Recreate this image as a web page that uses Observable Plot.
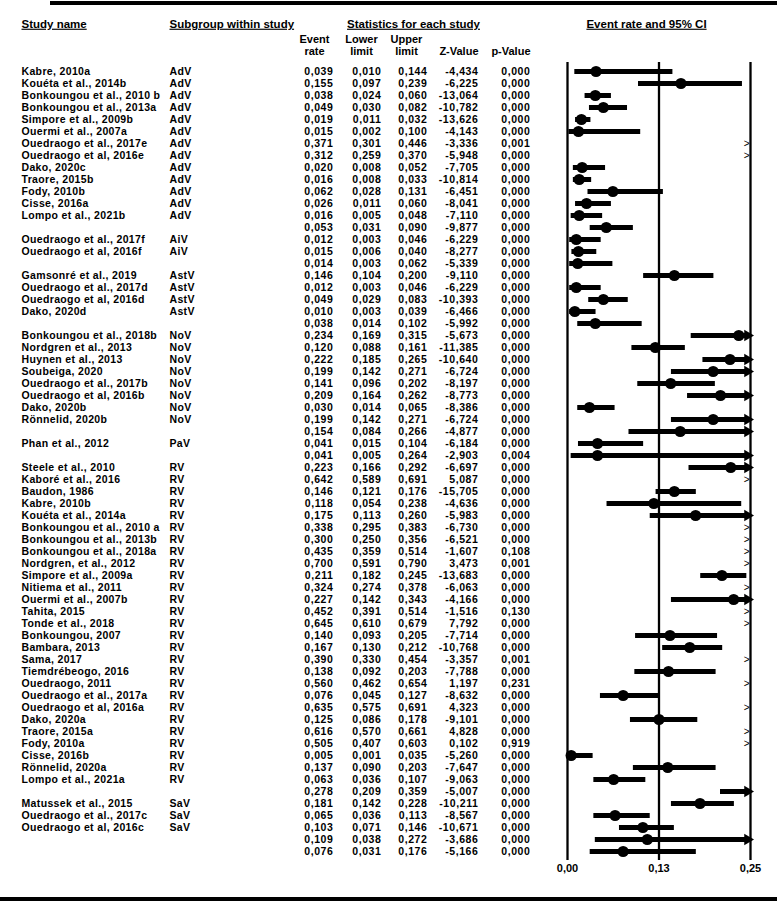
<!DOCTYPE html>
<html><head><meta charset="utf-8">
<script src="https://cdn.jsdelivr.net/npm/d3@7"></script>
<script src="https://cdn.jsdelivr.net/npm/@observablehq/plot@0.6"></script>
<style>
body{margin:0;background:#fff;}
#wrap{position:relative;width:777px;height:903px;overflow:hidden;background:#fff;}
.hline{position:absolute;background:#000;}
</style></head><body><div id="wrap"></div>
<script>
const studies = ["Kabre, 2010a","Kouéta et al., 2014b","Bonkoungou et al., 2010 b","Bonkoungou et al., 2013a","Simpore et al., 2009b","Ouermi et al., 2007a","Ouedraogo et al., 2017e","Ouedraogo et al, 2016e","Dako, 2020c","Traore, 2015b","Fody, 2010b","Cisse, 2016a","Lompo et al., 2021b","",
"Ouedraogo et al., 2017f","Ouedraogo et al, 2016f","",
"Gamsonré et al., 2019","Ouedraogo et al., 2017d","Ouedraogo et al, 2016d","Dako, 2020d","",
"Bonkoungou et al., 2018b","Nordgren et al., 2013","Huynen et al., 2013","Soubeiga, 2020","Ouedraogo et al., 2017b","Ouedraogo et al, 2016b","Dako, 2020b","Rönnelid, 2020b","",
"Phan et al., 2012","",
"Steele et al., 2010","Kaboré et al., 2016","Baudon, 1986","Kabre, 2010b","Kouéta et al., 2014a","Bonkoungou et al., 2010 a","Bonkoungou et al., 2013b","Bonkoungou et al., 2018a","Nordgren, et al., 2012","Simpore et al., 2009a","Nitiema et al., 2011","Ouermi et al., 2007b","Tahita, 2015","Tonde et al., 2018","Bonkoungou, 2007","Bambara, 2013","Sama, 2017","Tiemdrébeogo, 2016","Ouedraogo, 2011","Ouedraogo et al., 2017a","Ouedraogo et al, 2016a","Dako, 2020a","Traore, 2015a","Fody, 2010a","Cisse, 2016b","Rönnelid, 2020a","Lompo et al., 2021a","",
"Matussek et al., 2015","Ouedraogo et al., 2017c","Ouedraogo et al, 2016c","",
""];
const subgroups = ["AdV","AdV","AdV","AdV","AdV","AdV","AdV","AdV","AdV","AdV","AdV","AdV","AdV","",
"AiV","AiV","",
"AstV","AstV","AstV","AstV","",
"NoV","NoV","NoV","NoV","NoV","NoV","NoV","NoV","",
"PaV","",
"RV","RV","RV","RV","RV","RV","RV","RV","RV","RV","RV","RV","RV","RV","RV","RV","RV","RV","RV","RV","RV","RV","RV","RV","RV","RV","RV","",
"SaV","SaV","SaV","",
""];
const eventRate = [0.039,0.155,0.038,0.049,0.019,0.015,0.371,0.312,0.020,0.016,0.062,0.026,0.016,0.053,
0.012,0.015,0.014,
0.146,0.012,0.049,0.010,0.038,
0.234,0.120,0.222,0.199,0.141,0.209,0.030,0.199,0.154,
0.041,0.041,
0.223,0.642,0.146,0.118,0.175,0.338,0.300,0.435,0.700,0.211,0.324,0.227,0.452,0.645,0.140,0.167,0.390,0.138,0.560,0.076,0.635,0.125,0.616,0.505,0.005,0.137,0.063,0.278,
0.181,0.065,0.103,0.109,
0.076];
const lowerLimit = [0.010,0.097,0.024,0.030,0.011,0.002,0.301,0.259,0.008,0.008,0.028,0.011,0.005,0.031,
0.003,0.006,0.003,
0.104,0.003,0.029,0.003,0.014,
0.169,0.088,0.185,0.142,0.096,0.164,0.014,0.142,0.084,
0.015,0.005,
0.166,0.589,0.121,0.054,0.113,0.295,0.250,0.359,0.591,0.182,0.274,0.142,0.391,0.610,0.093,0.130,0.330,0.092,0.462,0.045,0.575,0.086,0.570,0.407,0.001,0.090,0.036,0.209,
0.142,0.036,0.071,0.038,
0.031];
const upperLimit = [0.144,0.239,0.060,0.082,0.032,0.100,0.446,0.370,0.052,0.033,0.131,0.060,0.048,0.090,
0.046,0.040,0.062,
0.200,0.046,0.083,0.039,0.102,
0.315,0.161,0.265,0.271,0.202,0.262,0.065,0.271,0.266,
0.104,0.264,
0.292,0.691,0.176,0.238,0.260,0.383,0.356,0.514,0.790,0.245,0.378,0.343,0.514,0.679,0.205,0.212,0.454,0.203,0.654,0.127,0.691,0.178,0.661,0.603,0.035,0.203,0.107,0.359,
0.228,0.113,0.146,0.272,
0.176];
const zValue = [-4.434,-6.225,-13.064,-10.782,-13.626,-4.143,-3.336,-5.948,-7.705,-10.814,-6.451,-8.041,-7.110,-9.877,
-6.229,-8.277,-5.339,
-9.110,-6.229,-10.393,-6.466,-5.992,
-5.673,-11.385,-10.640,-6.724,-8.197,-8.773,-8.386,-6.724,-4.877,
-6.184,-2.903,
-6.697,5.087,-15.705,-4.636,-5.983,-6.730,-6.521,-1.607,3.473,-13.683,-6.063,-4.166,-1.516,7.792,-7.714,-10.768,-3.357,-7.788,1.197,-8.632,4.323,-9.101,4.828,0.102,-5.260,-7.647,-9.063,-5.007,
-10.211,-8.567,-10.671,-3.686,
-5.166];
const pValue = [0,0,0,0,0,0,0.001,0,0,0,0,0,0,0,
0,0,0,
0,0,0,0,0,
0,0,0,0,0,0,0,0,0,
0,0.004,
0,0,0,0,0,0,0,0.108,0.001,0,0,0,0.130,0,0,0,0.001,0,0.231,0,0,0,0,0.919,0,0,0,0,
0,0,0,0,
0];
const tickValues = [0, 0.125, 0.25];
const tickLabels = ["0,00", "0,13", "0,25"];
const titleLabels = ["Study name", "Subgroup within study", "Statistics for each study", "Event rate and 95% CI"];
const statLabels = [["Event", "rate"], ["Lower", "limit"], ["Upper", "limit"], ["", "Z-Value"], ["", "p-Value"]];

// ---- layout (not data) ----
const FONT = "'Liberation Sans', Arial, Helvetica, sans-serif";
const M_TOP = 62, M_BOTTOM = 43;
const xMax = tickValues[tickValues.length - 1];
const fmt = v => v.toFixed(3).replace(".", ",");
const rows = studies.map((s, i) => ({i, study: s, subgroup: subgroups[i], er: eventRate[i], lo: lowerLimit[i], hi: upperLimit[i], z: zValue[i], p: pValue[i]}));

const columns = [
  {dx: 21, anchor: "start", cls: "name", text: d => d.study},
  {dx: 169, anchor: "start", cls: "name", text: d => d.subgroup},
  {dx: 333, anchor: "end", cls: "num", text: d => fmt(d.er)},
  {dx: 381, anchor: "end", cls: "num", text: d => fmt(d.lo)},
  {dx: 427, anchor: "end", cls: "num", text: d => fmt(d.hi)},
  {dx: 478, anchor: "end", cls: "num", text: d => fmt(d.z)},
  {dx: 530, anchor: "end", cls: "num", text: d => fmt(d.p)}
];
const titleLayout = [
  {dx: 21, anchor: "start"},
  {dx: 169, anchor: "start"},
  {dx: 413, anchor: "middle"},
  {dx: 646, anchor: "middle"}
];
const statLayout = [
  {dx: 314, anchor: "middle"},
  {dx: 361, anchor: "middle"},
  {dx: 406, anchor: "middle"},
  {dx: 478, anchor: "end"},
  {dx: 530, anchor: "end"}
];
const TITLE_Y = 23.5, STAT_Y1 = 38.5, STAT_Y2 = 51;
const ROW_FONT = 10.5;

const marks = [];
marks.push(Plot.ruleX(tickValues, {stroke: "black", strokeWidth: 2.3}));
marks.push(Plot.ruleY(rows.filter(d => d.lo < xMax), {y: "i", x1: "lo", x2: d => Math.min(d.hi, xMax), stroke: "black", strokeWidth: 5}));
marks.push(Plot.dot(rows.filter(d => d.lo < xMax && d.hi > xMax), {x: () => xMax, y: "i", symbol: "triangle", rotate: 90, r: 4.2, fill: "black", stroke: "none", dx: -3}));
marks.push(Plot.dot(rows.filter(d => d.er < xMax), {x: "er", y: "i", r: 5.6, fill: "black", stroke: "none"}));
marks.push(Plot.text(rows.filter(d => d.lo >= xMax), {x: () => xMax, y: "i", text: () => ">", textAnchor: "end", dx: -1, fontSize: 10, fontWeight: "normal", fill: "black"}));
const rowTextMarks = [];
for (const c of columns) {
  const m = Plot.text(rows, {y: "i", text: c.text, frameAnchor: "left", dx: c.dx, textAnchor: c.anchor, fontSize: ROW_FONT, fontWeight: "bold", fill: "black"});
  rowTextMarks.push([m, c.cls]);
  marks.push(m);
}
titleLabels.forEach((t, k) => {
  marks.push(Plot.text([t], {text: d => d, frameAnchor: "top-left", dx: titleLayout[k].dx, dy: TITLE_Y - M_TOP, textAnchor: titleLayout[k].anchor, lineAnchor: "middle", fontSize: 11.5, fontWeight: "bold", fill: "black"}));
});
statLabels.forEach((pair, k) => {
  [STAT_Y1, STAT_Y2].forEach((yy, j) => {
    if (!pair[j]) return;
    marks.push(Plot.text([pair[j]], {text: d => d, frameAnchor: "top-left", dx: statLayout[k].dx, dy: yy - M_TOP, textAnchor: statLayout[k].anchor, lineAnchor: "middle", fontSize: 11, fontWeight: "bold", fill: "black"}));
  });
});
marks.push(Plot.axisX({ticks: tickValues, tickFormat: d => tickLabels[tickValues.indexOf(d)], tickSize: 0, tickPadding: 4, fontSize: 11, fontWeight: "bold", fill: "black", label: null}));

const chart = Plot.plot({
  width: 777, height: 903,
  marginTop: M_TOP, marginBottom: M_BOTTOM, marginLeft: 0, marginRight: 0,
  x: {domain: [0, xMax], range: [567, 750]},
  y: {type: "point", domain: d3.range(rows.length), padding: 0.5, axis: null},
  style: {fontFamily: FONT, background: "white", color: "black"},
  marks
});
// underline the column titles; widen row text slightly to match the scan
chart.querySelectorAll("text").forEach(t => {
  if (titleLabels.includes(t.textContent)) t.style.textDecoration = "underline";
});
chart.querySelectorAll("g[aria-label='text'] text").forEach(t => {
  const s = t.textContent;
  if (/^-?\d+,\d{3}$/.test(s)) t.style.letterSpacing = "0.6px";
  else if (s !== ">" && !titleLabels.includes(s) && !statLabels.flat().includes(s)) t.style.letterSpacing = "0.35px";
});
const wrapEl = document.getElementById("wrap");
wrapEl.appendChild(chart);
const topLine = document.createElement("div");
topLine.className = "hline"; topLine.style.cssText = "left:50px;right:0;top:1px;height:4px;";
const botLine = document.createElement("div");
botLine.className = "hline"; botLine.style.cssText = "left:0;right:0;top:897px;height:4px;";
wrapEl.appendChild(topLine); wrapEl.appendChild(botLine);
</script></body></html>
